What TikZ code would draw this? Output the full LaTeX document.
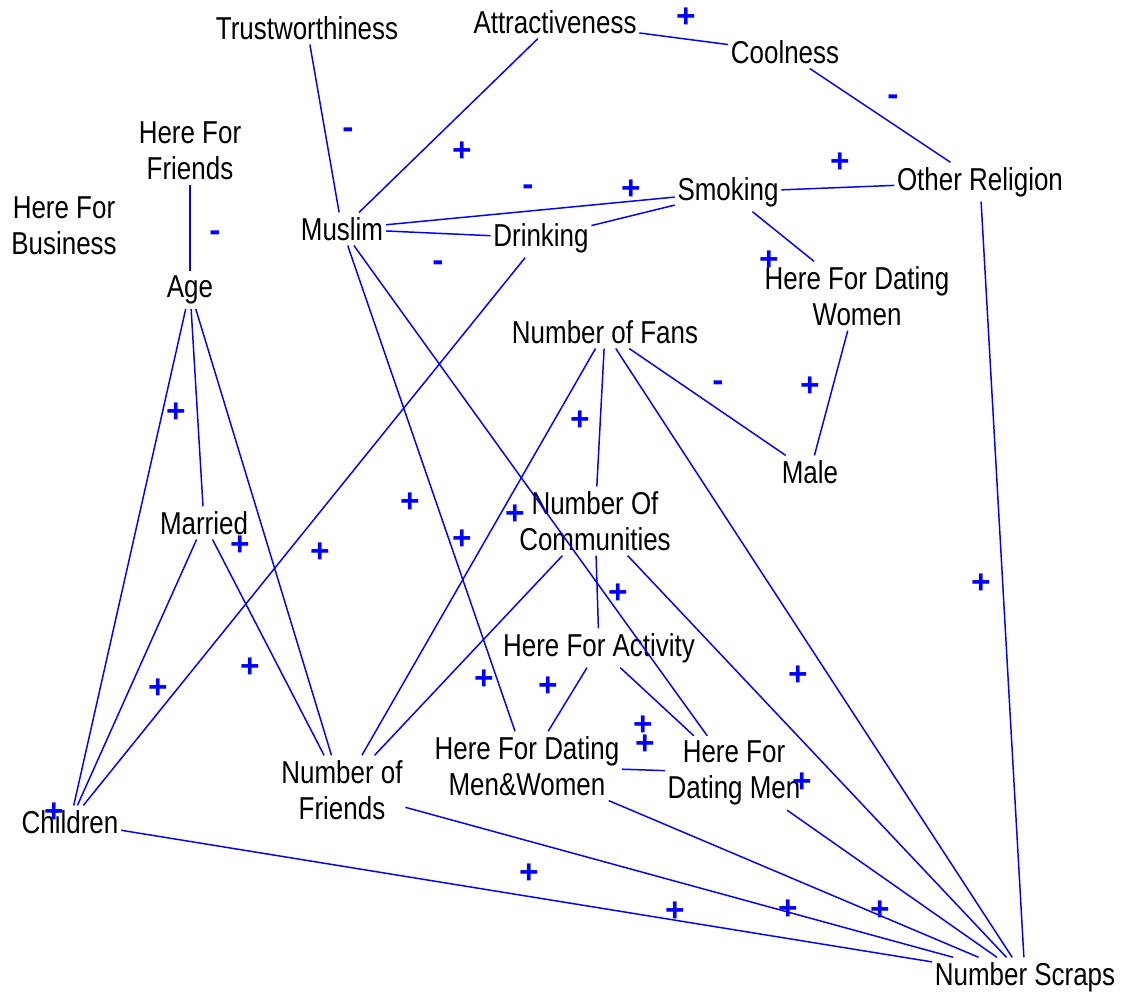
\documentclass[tikz,border=0pt]{standalone}
\usepackage{fontspec}
\setmainfont{Liberation Sans}[FakeStretch=0.82]
\newfontfamily\signfont{Liberation Sans}
\definecolor{linkBlue}{HTML}{0000FF}

\begin{document}
\begin{tikzpicture}[x=0.01cm, y=-0.01cm, font=\fontsize{9}{10.3}\selectfont,
    var/.style={align=center, inner xsep=0.6pt, inner ysep=1.2pt},
    link/.style={draw=linkBlue, line width=0.42pt},
    sign/.style={text=linkBlue, font=\signfont\fontsize{9.5}{10}\selectfont\bfseries,
      inner sep=0pt, text height=0.7em, text depth=0pt}]
    \useasboundingbox (0,0) rectangle (1126,995);

    % variables
    \node[var] (trust)      at (307,28)  {Trustworthiness};
    \node[var] (attr)       at (555,22)  {Attractiveness};
    \node[var] (cool)       at (785,52)  {Coolness};
    \node[var] (friendsfor) at (190,151) {Here For\\Friends};
    \node[var] (business)   at (64,226)  {Here For\\Business};
    \node[var] (muslim)     at (342,229) {Muslim};
    \node[var] (drink)      at (541,238) {Drinking};
    \node[var] (smoke)      at (728,192) {Smoking};
    \node[var] (otherrel)   at (980,182) {Other Religion};
    \node[var] (age)        at (190,290) {Age};
    \node[var] (women)      at (857,296) {Here For Dating\\Women};
    \node[var] (fans)       at (605,332) {Number of Fans};
    \node[var] (male)       at (810,472) {Male};
    \node[var] (married)    at (204,523) {Married};
    \node[var] (comm)       at (595,521) {Number Of\\Communities};
    \node[var] (activity)   at (599,648) {Here For Activity};
    \node[var] (menwomen)   at (527,766) {Here For Dating\\Men\&Women};
    \node[var] (men)        at (734,773) {Here For\\Dating Men};
    \node[var] (nfriends)   at (342,790) {Number of\\Friends};
    \node[var] (children)   at (70,822)  {Children};
    \node[var] (scraps)     at (1025,977) {Number Scraps};

    % links
    \foreach \a/\b in {trust/muslim, attr/muslim, attr/cool, cool/otherrel,
        muslim/smoke, muslim/drink, drink/smoke, smoke/otherrel, smoke/women,
        friendsfor/age, muslim/menwomen, muslim/men, drink/children,
        age/children, age/married, age/nfriends, married/children,
        married/nfriends, fans/nfriends, fans/comm, fans/male, fans/scraps,
        women/male, otherrel/scraps, comm/nfriends, comm/activity, comm/scraps,
        activity/menwomen, activity/men, menwomen/men, nfriends/scraps,
        children/scraps, menwomen/scraps, men/scraps}
      \draw[link] (\a) -- (\b);

    % signs
    \foreach \x/\y/\s [count=\i] in {686/15/+, 893/93/-, 348/126/-, 462/149/+,
        840/160/+, 528/183/-, 631/187/+, 215/229/-, 438/259/-, 769/258/+,
        718/379/-, 810/384/+, 176/410/+, 580/418/+, 410/500/+, 515/512/+,
        240/543/+, 320/550/+, 462/537/+, 618/591/+, 981/581/+, 250/665/+,
        158/686/+, 484/677/+, 548/684/+, 798/673/+, 643/723/+, 645/742/+,
        802/780/+, 54/810/+, 529/871/+, 675/909/+, 788/907/+, 880/908/+}
      \node[sign] (sign\i) at (\x,\y) {\s};
\end{tikzpicture}
\end{document}
